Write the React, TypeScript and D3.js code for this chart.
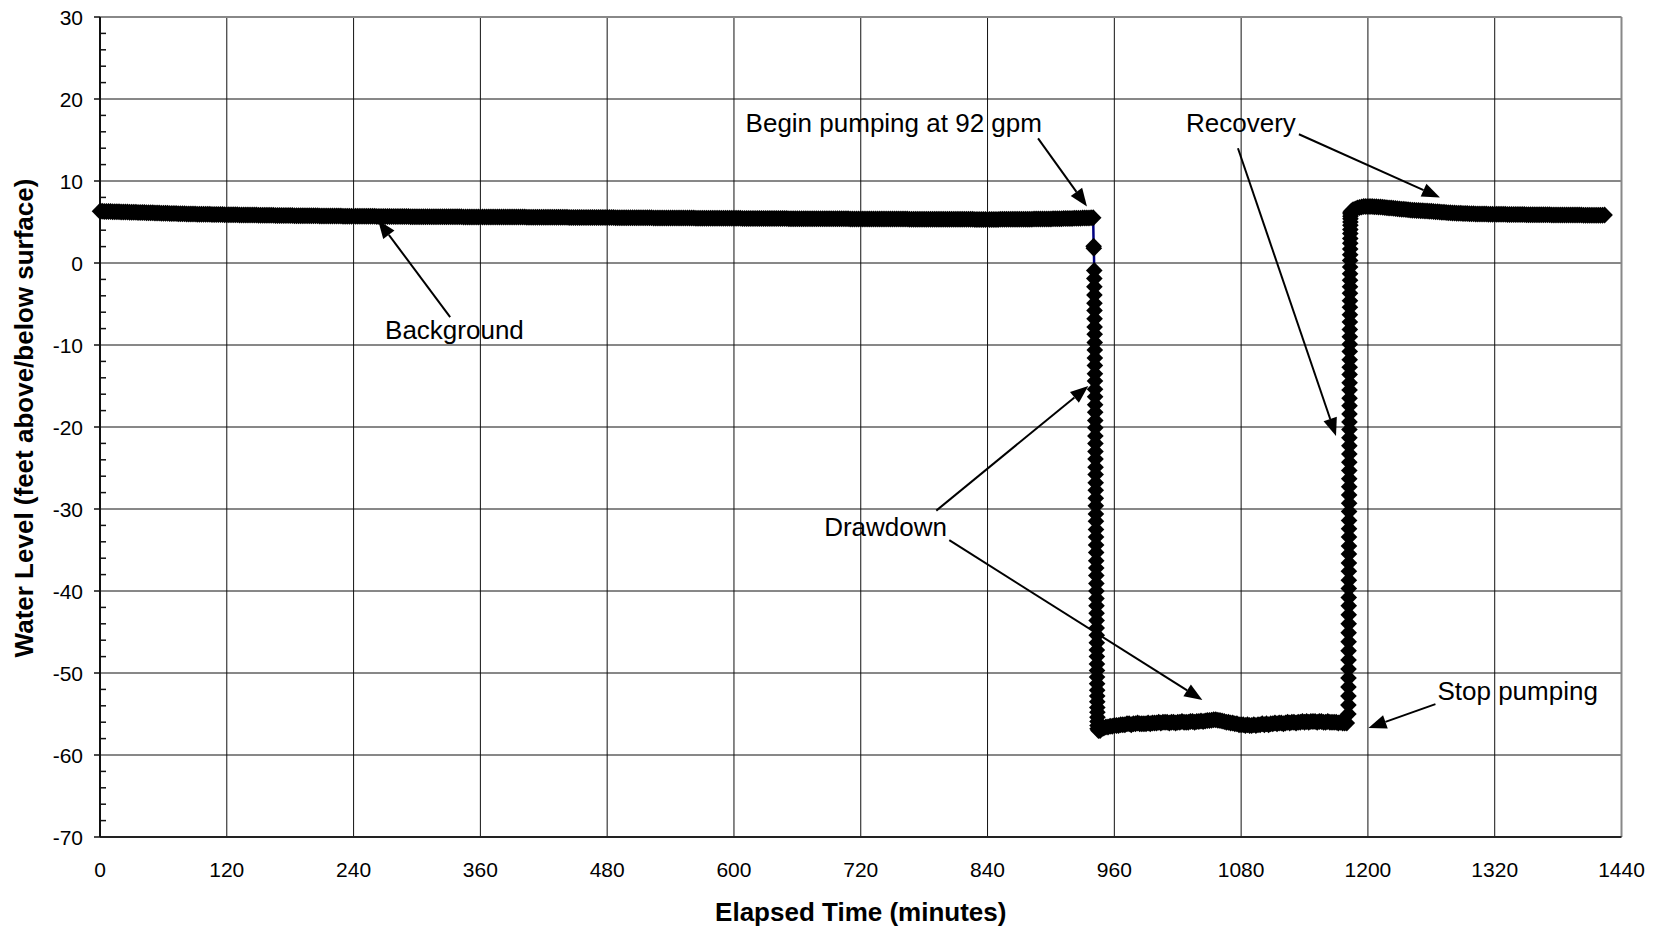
import React from "react";
import * as d3 from "d3";

// ---- Axis ticks -----------------------------------------------------------
const xTicks = [0, 120, 240, 360, 480, 600, 720, 840, 960, 1080, 1200, 1320, 1440];
const yTicks = [-70, -60, -50, -40, -30, -20, -10, 0, 10, 20, 30];

// ---- Water level log (feet above/below surface) ---------------------------
// Background readings, logged every 2 minutes from 0 to 940 min.
const backgroundStartMin = 0;
const backgroundIntervalMin = 2;
const backgroundLevels = [
  6.31, 6.3, 6.29, 6.29, 6.27, 6.27, 6.26, 6.25, 6.25, 6.24,
  6.23, 6.22, 6.22, 6.21, 6.2, 6.2, 6.19, 6.18, 6.17, 6.17,
  6.16, 6.15, 6.14, 6.14, 6.12, 6.12, 6.11, 6.1, 6.09, 6.08,
  6.07, 6.07, 6.06, 6.05, 6.04, 6.04, 6.03, 6.02, 6.01, 6.01,
  6.0, 5.99, 5.99, 5.98, 5.97, 5.97, 5.96, 5.96, 5.95, 5.95,
  5.94, 5.93, 5.93, 5.92, 5.92, 5.91, 5.91, 5.9, 5.9, 5.89,
  5.89, 5.88, 5.88, 5.88, 5.87, 5.87, 5.86, 5.86, 5.86, 5.85,
  5.85, 5.85, 5.84, 5.84, 5.84, 5.83, 5.83, 5.83, 5.82, 5.82,
  5.82, 5.81, 5.81, 5.8, 5.8, 5.8, 5.79, 5.79, 5.79, 5.78,
  5.78, 5.78, 5.77, 5.77, 5.77, 5.77, 5.76, 5.76, 5.76, 5.76,
  5.76, 5.75, 5.75, 5.75, 5.74, 5.74, 5.74, 5.74, 5.73, 5.73,
  5.73, 5.73, 5.72, 5.72, 5.72, 5.71, 5.71, 5.71, 5.71, 5.7,
  5.7, 5.7, 5.7, 5.7, 5.69, 5.69, 5.69, 5.69, 5.69, 5.69,
  5.69, 5.68, 5.68, 5.68, 5.68, 5.68, 5.67, 5.67, 5.67, 5.67,
  5.67, 5.67, 5.66, 5.66, 5.66, 5.66, 5.66, 5.65, 5.65, 5.65,
  5.65, 5.65, 5.65, 5.65, 5.64, 5.64, 5.64, 5.64, 5.64, 5.64,
  5.64, 5.64, 5.63, 5.63, 5.63, 5.63, 5.63, 5.63, 5.63, 5.63,
  5.63, 5.63, 5.62, 5.62, 5.62, 5.62, 5.62, 5.62, 5.62, 5.62,
  5.62, 5.62, 5.61, 5.61, 5.61, 5.61, 5.61, 5.61, 5.61, 5.61,
  5.61, 5.61, 5.6, 5.6, 5.6, 5.6, 5.6, 5.6, 5.6, 5.6,
  5.6, 5.6, 5.59, 5.59, 5.59, 5.59, 5.59, 5.58, 5.58, 5.58,
  5.58, 5.58, 5.58, 5.58, 5.57, 5.57, 5.57, 5.57, 5.57, 5.57,
  5.57, 5.57, 5.56, 5.56, 5.56, 5.56, 5.56, 5.56, 5.56, 5.56,
  5.56, 5.56, 5.55, 5.55, 5.55, 5.55, 5.55, 5.54, 5.54, 5.54,
  5.54, 5.54, 5.54, 5.54, 5.53, 5.53, 5.53, 5.53, 5.53, 5.53,
  5.53, 5.52, 5.52, 5.52, 5.52, 5.52, 5.51, 5.51, 5.51, 5.51,
  5.51, 5.51, 5.5, 5.5, 5.5, 5.5, 5.5, 5.49, 5.49, 5.49,
  5.49, 5.49, 5.49, 5.49, 5.48, 5.48, 5.48, 5.48, 5.48, 5.48,
  5.48, 5.48, 5.47, 5.47, 5.47, 5.47, 5.47, 5.47, 5.47, 5.47,
  5.47, 5.46, 5.46, 5.46, 5.46, 5.46, 5.45, 5.45, 5.45, 5.45,
  5.45, 5.45, 5.45, 5.45, 5.44, 5.44, 5.44, 5.44, 5.44, 5.44,
  5.44, 5.44, 5.43, 5.43, 5.43, 5.43, 5.43, 5.43, 5.43, 5.43,
  5.43, 5.42, 5.42, 5.42, 5.42, 5.42, 5.41, 5.41, 5.41, 5.41,
  5.41, 5.41, 5.41, 5.41, 5.4, 5.4, 5.4, 5.4, 5.4, 5.4,
  5.4, 5.4, 5.4, 5.4, 5.4, 5.4, 5.4, 5.4, 5.4, 5.4,
  5.4, 5.39, 5.39, 5.39, 5.39, 5.38, 5.38, 5.38, 5.38, 5.38,
  5.37, 5.37, 5.37, 5.37, 5.37, 5.37, 5.37, 5.37, 5.37, 5.37,
  5.37, 5.37, 5.37, 5.36, 5.36, 5.36, 5.36, 5.36, 5.36, 5.36,
  5.36, 5.36, 5.36, 5.35, 5.35, 5.35, 5.35, 5.35, 5.35, 5.35,
  5.35, 5.35, 5.35, 5.35, 5.34, 5.34, 5.34, 5.34, 5.34, 5.34,
  5.34, 5.34, 5.34, 5.33, 5.33, 5.33, 5.33, 5.33, 5.33, 5.33,
  5.33, 5.33, 5.33, 5.33, 5.32, 5.32, 5.32, 5.32, 5.32, 5.32,
  5.32, 5.32, 5.32, 5.32, 5.32, 5.32, 5.33, 5.33, 5.33, 5.33,
  5.33, 5.33, 5.34, 5.34, 5.34, 5.34, 5.34, 5.35, 5.35, 5.35,
  5.35, 5.35, 5.36, 5.36, 5.36, 5.37, 5.37, 5.37, 5.38, 5.38,
  5.38, 5.39, 5.39, 5.4, 5.4, 5.41, 5.42, 5.42, 5.43, 5.43,
  5.44, 5.45, 5.45, 5.46, 5.47, 5.48, 5.48, 5.49, 5.5, 5.51,
  5.52,
];

// First readings after the pump was switched on.
const pumpOnMinutes = [940.4, 940.6];
const pumpOnLevels = [2.05, 1.8];

// Fast-logged drawdown readings.
const drawdownStartMin = 941;
const drawdownIntervalMin = 0.05;
const drawdownLevels = [
  -0.9, -1.9, -2.9, -3.9, -4.9, -5.8, -6.8, -7.8, -8.7, -9.7, -10.6, -11.6,
  -12.5, -13.5, -14.4, -15.4, -16.3, -17.3, -18.2, -19.2, -20.1, -21.1, -22.0,
  -23.0, -23.9, -24.9, -25.8, -26.8, -27.7, -28.7, -29.6, -30.6, -31.5, -32.5,
  -33.4, -34.4, -35.3, -36.3, -37.2, -38.1, -39.1, -40.0, -40.9, -41.8, -42.7,
  -43.6, -44.5, -45.4, -46.3, -47.2, -48.0, -48.9, -49.7, -50.5, -51.3, -52.1,
  -52.8, -53.5, -54.2, -54.8, -55.4, -55.9, -56.4, -56.8,
];
const drawdownTailMinutes = [945, 946.5, 948];
const drawdownTailLevels = [-57.0, -57.0, -56.8];

// Pumping readings, logged every 2 minutes from 950 to 1180 min.
const pumpingStartMin = 950;
const pumpingIntervalMin = 2;
const pumpingLevels = [
  -56.7, -56.6, -56.6, -56.5, -56.5, -56.4, -56.4, -56.4, -56.3, -56.3,
  -56.3, -56.2, -56.2, -56.3, -56.2, -56.2, -56.1, -56.2, -56.2, -56.2,
  -56.2, -56.1, -56.2, -56.1, -56.1, -56.1, -56.0, -56.1, -56.0, -56.0,
  -56.0, -56.1, -56.0, -56.0, -56.1, -56.0, -56.0, -55.9, -56.0, -56.0,
  -56.0, -55.9, -55.9, -56.0, -55.9, -55.9, -55.85, -55.9, -55.85, -55.8,
  -55.8, -55.75, -55.7, -55.7, -55.75, -55.8, -55.85, -55.9, -56.0, -56.0,
  -56.1, -56.1, -56.2, -56.2, -56.3, -56.3, -56.3, -56.4, -56.3, -56.4,
  -56.4, -56.3, -56.4, -56.3, -56.3, -56.2, -56.3, -56.2, -56.3, -56.2,
  -56.2, -56.1, -56.2, -56.1, -56.1, -56.2, -56.1, -56.0, -56.1, -56.0,
  -56.0, -56.1, -56.0, -56.0, -55.9, -56.0, -55.9, -56.0, -55.9, -55.9,
  -55.9, -56.0, -55.9, -55.9, -56.0, -56.0, -55.9, -56.0, -56.0, -56.0,
  -56.0, -56.1, -56.0, -56.1, -56.1, -56.1,
];

// Fast-logged recovery readings after the pump was stopped.
const recoveryStartMin = 1181.5;
const recoveryIntervalMin = 0.03;
const recoveryLevels = [
  -55.0, -53.9, -52.8, -51.7, -50.6, -49.5, -48.4, -47.3, -46.2, -45.1, -44.0,
  -42.9, -41.8, -40.8, -39.7, -38.7, -37.6, -36.6, -35.5, -34.5, -33.4, -32.4,
  -31.4, -30.3, -29.3, -28.3, -27.3, -26.3, -25.3, -24.3, -23.3, -22.3, -21.3,
  -20.3, -19.4, -18.4, -17.4, -16.5, -15.5, -14.6, -13.6, -12.7, -11.8, -10.8,
  -9.9, -9.0, -8.1, -7.2, -6.3, -5.4, -4.6, -3.7, -2.9, -2.1, -1.3, -0.5, 0.3,
  1.0, 1.7, 2.4, 3.0, 3.6, 4.1, 4.6, 5.0, 5.4, 5.7, 6.0, 6.2,
];
const recoveryTailMinutes = [1184.5, 1186, 1188, 1190, 1192, 1194, 1196, 1198];
const recoveryTailLevels = [6.35, 6.5, 6.6, 6.7, 6.78, 6.84, 6.88, 6.9];

// Post-recovery readings, logged every 2 minutes from 1200 to 1424 min.
const postStartMin = 1200;
const postIntervalMin = 2;
const postLevels = [
  6.9, 6.89, 6.88, 6.87, 6.85, 6.84, 6.82, 6.8, 6.78, 6.75,
  6.72, 6.7, 6.68, 6.65, 6.62, 6.6, 6.57, 6.54, 6.51, 6.48,
  6.45, 6.44, 6.42, 6.41, 6.4, 6.38, 6.37, 6.35, 6.34, 6.32,
  6.3, 6.28, 6.26, 6.24, 6.22, 6.2, 6.18, 6.16, 6.14, 6.12,
  6.1, 6.09, 6.08, 6.07, 6.06, 6.05, 6.04, 6.03, 6.02, 6.01,
  6.0, 5.99, 5.99, 5.98, 5.98, 5.97, 5.97, 5.96, 5.95, 5.95,
  5.94, 5.94, 5.94, 5.93, 5.93, 5.93, 5.92, 5.92, 5.92, 5.91,
  5.91, 5.91, 5.9, 5.9, 5.9, 5.89, 5.89, 5.89, 5.89, 5.88,
  5.88, 5.88, 5.88, 5.87, 5.87, 5.87, 5.87, 5.86, 5.86, 5.86,
  5.86, 5.86, 5.85, 5.85, 5.85, 5.85, 5.85, 5.84, 5.84, 5.84,
  5.84, 5.84, 5.83, 5.83, 5.83, 5.83, 5.83, 5.82, 5.82, 5.82,
  5.82, 5.83, 5.84,
];

// ---- Callouts (minutes, feet) ---------------------------------------------
const callouts = [
  {
    text: "Begin pumping at 92 gpm",
    at: [611, 16.0],
    arrows: [[887.8, 15.2, 934.1, 6.9]],
  },
  {
    text: "Recovery",
    at: [1027.8, 16.0],
    arrows: [
      [1134.7, 15.7, 1268.2, 8.0],
      [1077.0, 14.0, 1169.8, -21.1],
    ],
  },
  {
    text: "Background",
    at: [269.8, -9.3],
    arrows: [[331.4, -6.6, 263.2, 5.2]],
  },
  {
    text: "Drawdown",
    at: [685.4, -33.35],
    arrows: [
      [791.5, -30.2, 935.4, -15.0],
      [803.8, -33.8, 1043.3, -53.3],
    ],
  },
  {
    text: "Stop pumping",
    at: [1265.8, -53.3],
    arrows: [[1263.9, -53.8, 1200.5, -56.7]],
  },
];

type Pt = { t: number; v: number };

function regular(start: number, step: number, levels: number[]): Pt[] {
  return levels.map((v, i) => ({ t: start + i * step, v }));
}
function paired(minutes: number[], levels: number[]): Pt[] {
  return minutes.map((t, i) => ({ t, v: levels[i] }));
}

const series: Pt[] = [
  ...regular(backgroundStartMin, backgroundIntervalMin, backgroundLevels),
  ...paired(pumpOnMinutes, pumpOnLevels),
  ...regular(drawdownStartMin, drawdownIntervalMin, drawdownLevels),
  ...paired(drawdownTailMinutes, drawdownTailLevels),
  ...regular(pumpingStartMin, pumpingIntervalMin, pumpingLevels),
  ...regular(recoveryStartMin, recoveryIntervalMin, recoveryLevels),
  ...paired(recoveryTailMinutes, recoveryTailLevels),
  ...regular(postStartMin, postIntervalMin, postLevels),
];

const W = 1659;
const H = 927;
const plot = { left: 100, right: 1621.5, top: 17, bottom: 837 };
const FONT = "'Liberation Sans', Arial, Helvetica, sans-serif";

export default function App() {
  const x = d3.scaleLinear().domain([0, 1440]).range([plot.left, plot.right]);
  const y = d3.scaleLinear().domain([-70, 30]).range([plot.bottom, plot.top]);

  const line = d3
    .line<Pt>()
    .x((d) => x(d.t))
    .y((d) => y(d.v));

  const diamond = "M0,-8.5L8.3,0L0,8.5L-8.3,0Z";
  const minorY = d3.range(-70, 30, 2).filter((v) => v % 10 !== 0);

  const arrow = (a: number[], key: string) => {
    const x1 = x(a[0]);
    const y1 = y(a[1]);
    const x2 = x(a[2]);
    const y2 = y(a[3]);
    const ang = Math.atan2(y2 - y1, x2 - x1);
    const len = 18;
    const hw = 7;
    const bx = x2 - len * Math.cos(ang);
    const by = y2 - len * Math.sin(ang);
    const px = -Math.sin(ang) * hw;
    const py = Math.cos(ang) * hw;
    return (
      <g key={key}>
        <line x1={x1} y1={y1} x2={bx} y2={by} stroke="#000" strokeWidth={2} />
        <path
          d={`M${x2},${y2}L${bx + px},${by + py}L${bx - px},${by - py}Z`}
          fill="#000"
        />
      </g>
    );
  };

  return (
    <svg
      width={W}
      height={H}
      style={{ position: "absolute", left: 0, top: 0, background: "#fff" }}
      fontFamily={FONT}
    >
      <rect x={0} y={0} width={W} height={H} fill="#fff" />

      {/* grid */}
      {yTicks
        .filter((v) => v > -70 && v < 30)
        .map((v) => (
          <line
            key={`gy${v}`}
            x1={plot.left}
            x2={plot.right}
            y1={y(v)}
            y2={y(v)}
            stroke="#111"
            strokeWidth={1}
          />
        ))}
      {xTicks
        .filter((t) => t > 0 && t < 1440)
        .map((t) => (
          <line
            key={`gx${t}`}
            x1={x(t)}
            x2={x(t)}
            y1={plot.top}
            y2={plot.bottom}
            stroke="#111"
            strokeWidth={1}
          />
        ))}

      {/* frame */}
      <line x1={plot.left} x2={plot.right} y1={plot.top} y2={plot.top} stroke="#888" strokeWidth={2} />
      <line x1={plot.right} x2={plot.right} y1={plot.top} y2={plot.bottom} stroke="#888" strokeWidth={2} />
      <line x1={plot.left} x2={plot.right} y1={plot.bottom} y2={plot.bottom} stroke="#222" strokeWidth={2} />
      <line x1={plot.left} x2={plot.left} y1={plot.top} y2={plot.bottom} stroke="#111" strokeWidth={2} />

      {/* y ticks */}
      {yTicks.map((v) => (
        <line key={`ty${v}`} x1={plot.left - 6} x2={plot.left} y1={y(v)} y2={y(v)} stroke="#111" strokeWidth={1.5} />
      ))}
      {minorY.map((v) => (
        <line key={`my${v}`} x1={plot.left} x2={plot.left + 6} y1={y(v)} y2={y(v)} stroke="#111" strokeWidth={1.5} />
      ))}
      {yTicks.map((v) => (
        <text key={`ly${v}`} x={83} y={y(v)} dy="0.36em" textAnchor="end" fontSize={21} fill="#000">
          {v}
        </text>
      ))}
      {xTicks.map((t) => (
        <text key={`lx${t}`} x={x(t)} y={877} textAnchor="middle" fontSize={21} fill="#000">
          {t}
        </text>
      ))}

      {/* axis titles */}
      <text x={(plot.left + plot.right) / 2} y={921} textAnchor="middle" fontSize={26} fontWeight="bold" fill="#000">
        Elapsed Time (minutes)
      </text>
      <text
        transform={`translate(33,418) rotate(-90)`}
        textAnchor="middle"
        fontSize={26}
        fontWeight="bold"
        fill="#000"
      >
        Water Level (feet above/below surface)
      </text>

      {/* series */}
      <path d={line(series) || ""} fill="none" stroke="#000080" strokeWidth={2.5} />
      {series.map((d, i) => (
        <path key={i} d={diamond} transform={`translate(${x(d.t)},${y(d.v)})`} fill="#000" />
      ))}

      {/* callouts */}
      {callouts.map((c, i) => (
        <g key={`c${i}`}>
          <text x={x(c.at[0])} y={y(c.at[1])} fontSize={26} fill="#000">
            {c.text}
          </text>
          {c.arrows.map((a, j) => arrow(a, `a${i}-${j}`))}
        </g>
      ))}
    </svg>
  );
}
